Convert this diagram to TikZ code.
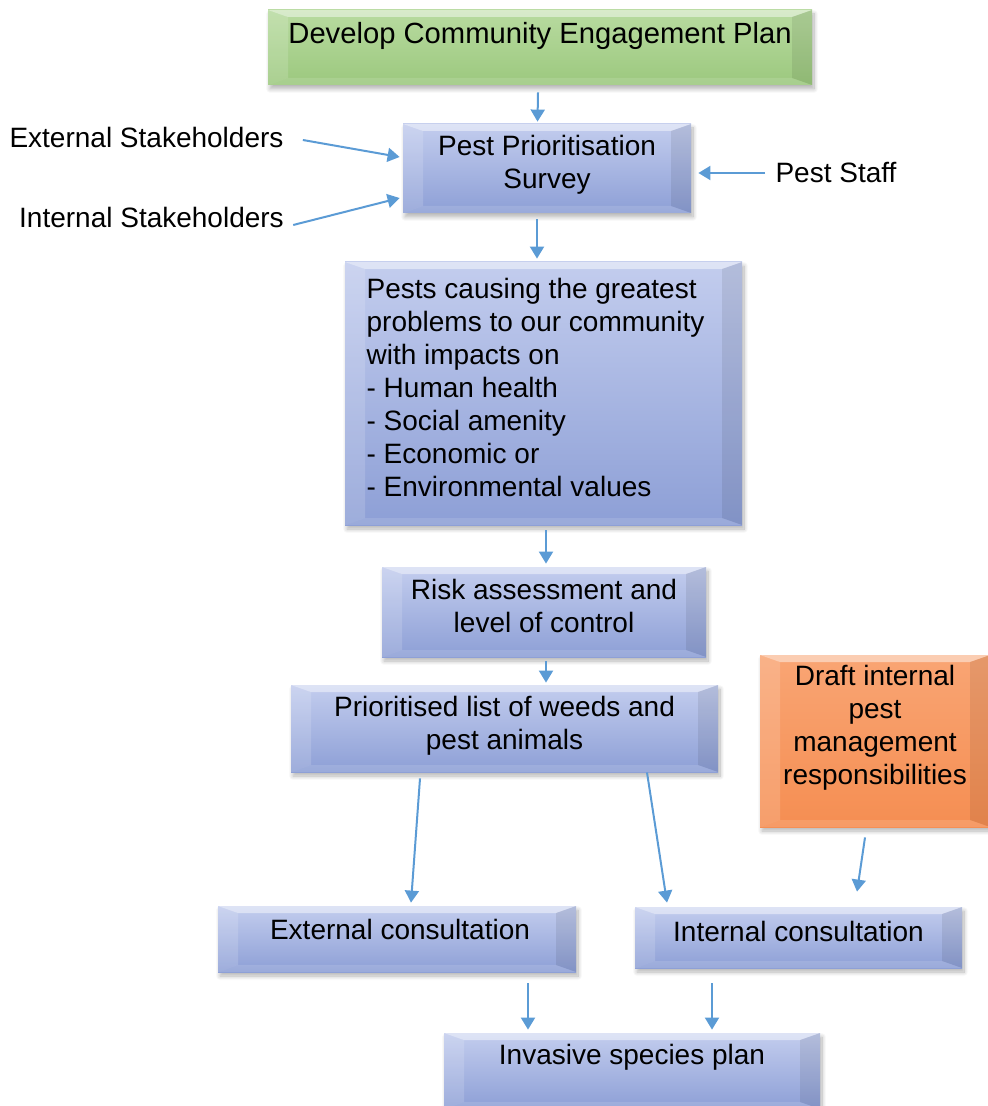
\documentclass[tikz,border=0pt]{standalone}
\usepackage{fontspec}
\setmainfont{Liberation Sans}
\usetikzlibrary{arrows.meta,calc,positioning,shadows.blur}
\definecolor{bxtop}{HTML}{C3CDEE}
\definecolor{bxbot}{HTML}{8D9FD6}
\definecolor{grtop}{HTML}{B8DBA0}
\definecolor{grbot}{HTML}{9CC87E}
\definecolor{ortop}{HTML}{F9A574}
\definecolor{orbot}{HTML}{F58E52}
\definecolor{arrblue}{HTML}{5B9BD5}
\tikzset{
	bevel/.style={path picture={
		\path (path picture bounding box.north west) coordinate (bnw) (path picture bounding box.north east) coordinate (bne)
		      (path picture bounding box.south west) coordinate (bsw) (path picture bounding box.south east) coordinate (bse);
		\fill[white,opacity=.45] (bnw) -- (bne) -- ($(bne)+(-10pt,-3.5pt)$) -- ($(bnw)+(10pt,-3.5pt)$) -- cycle;
		\fill[white,opacity=.15] (bnw) -- ($(bnw)+(10pt,-3.5pt)$) -- ($(bsw)+(10pt,3.5pt)$) -- (bsw) -- cycle;
		\fill[black,opacity=.08] (bne) -- ($(bne)+(-10pt,-3.5pt)$) -- ($(bse)+(-10pt,3.5pt)$) -- (bse) -- cycle;
		\fill[white,opacity=.12] (bsw) -- ($(bsw)+(10pt,3.5pt)$) -- ($(bse)+(-10pt,3.5pt)$) -- (bse) -- cycle;
	}},
	tx/.style={inner sep=0pt,align=center,font=\fontsize{14}{16.5}\selectfont},
	arr/.style={-{Triangle[length=6pt,width=7pt]},line width=1pt,draw=arrblue}
}
\tikzstyle{bx}=[rectangle,inner sep=0pt,top color=bxtop,bottom color=bxbot,bevel,blur shadow={shadow blur steps=12,shadow xshift=1pt,shadow yshift=-2pt,shadow opacity=30}]
\tikzstyle{gbx}=[bx,top color=grtop,bottom color=grbot]
\tikzstyle{obx}=[bx,top color=ortop,bottom color=orbot]

\begin{document}
\begin{tikzpicture}[x=0.5pt,y=-0.5pt]
    \useasboundingbox (0,0) rectangle (987,1106);
    \node (cep) [gbx,minimum width=272pt,minimum height=37.5pt,label={[tx,name=cept,yshift=6pt,font=\fontsize{14.6}{16.5}\selectfont]center:Develop Community Engagement Plan}] at (540,47.5) {};
    \node (pps) [bx,minimum width=144pt,minimum height=44.5pt,label={[tx,name=ppst,yshift=1.75pt]center:Pest Prioritisation\\Survey}] at (547,168.5) {};
    \node (exsh) [tx] at (146.5,137) {External Stakeholders};
    \node (insh) [tx] at (151.5,217) {Internal Stakeholders};
    \node (staff) [tx] at (836,173) {Pest Staff};
    \node (pcp) [bx,minimum width=198.5pt,minimum height=131.5pt,label={[tx,name=pcpt,align=left,xshift=-4pt,yshift=3.25pt]center:Pests causing the greatest\\problems to our community\\with impacts on\\- Human health\\- Social amenity\\- Economic or\\- Environmental values}] at (543.5,393.5) {};
    \node (rac) [bx,minimum width=162pt,minimum height=45pt,label={[tx,name=ract,yshift=3.25pt]center:Risk assessment and\\level of control}] at (544,612) {};
    \node (pls) [bx,minimum width=213.5pt,minimum height=43.5pt,label={[tx,name=plst,yshift=1.5pt]center:Prioritised list of weeds and\\pest animals}] at (504.5,728.5) {};
    \node (dip) [obx,minimum width=115pt,minimum height=86pt,label={[tx,name=dipt,yshift=6.5pt]center:Draft internal\\pest\\management\\responsibilities}] at (875,741) {};
    \node (exc) [bx,minimum width=179pt,minimum height=33pt,label={[tx,name=exct,xshift=1.5pt,yshift=5pt]center:External consultation}] at (397,939) {};
    \node (inc) [bx,minimum width=163.5pt,minimum height=30.5pt,label={[tx,name=inct,yshift=3.25pt]center:Internal consultation}] at (798.5,937.5) {};
    \node (isp) [bx,minimum width=188pt,minimum height=38pt,label={[tx,name=ispt,yshift=7pt]center:Invasive species plan}] at (632,1071) {};

    \draw[arr] ($(cep.south)+(-2,7)$) -- ($(pps.north)+(-9.5,-2)$);
    \draw[arr] ($(exsh.east)+(19,3)$) -- ($(pps.west)+(-3,-11.5)$);
    \draw[arr] ($(insh.east)+(9,8)$) -- ($(pps.west)+(-3,29.5)$);
    \draw[arr] ($(staff.west)+(-10,0)$) -- ($(pps.east)+(7,4.5)$);
    \draw[arr] ($(pps.south)+(-10,6)$) -- ($(pcp.north)+(-6.5,-3)$);
    \draw[arr] ($(pcp.south)+(2.5,5)$) -- ($(rac.north)+(2,-3)$);
    \draw[arr] ($(rac.south)+(2,4)$) -- ($(pls.north)+(41.5,-2)$);
    \draw[arr] ($(pls.south)+(-84.5,6)$) -- ($(exc.north)+(14,-3)$);
    \draw[arr] ($(pls.south)+(142.5,0)$) -- ($(inc.north)+(-131.5,-4)$);
    \draw[arr] ($(dip.south)+(-10,10)$) -- ($(inc.north)+(58.5,-15)$);
    \draw[arr] ($(exc.south)+(131,11)$) -- ($(isp.north)+(-104,-3)$);
    \draw[arr] ($(inc.south)+(-86.5,15)$) -- ($(isp.north)+(80,-3)$);
\end{tikzpicture}
\end{document}
